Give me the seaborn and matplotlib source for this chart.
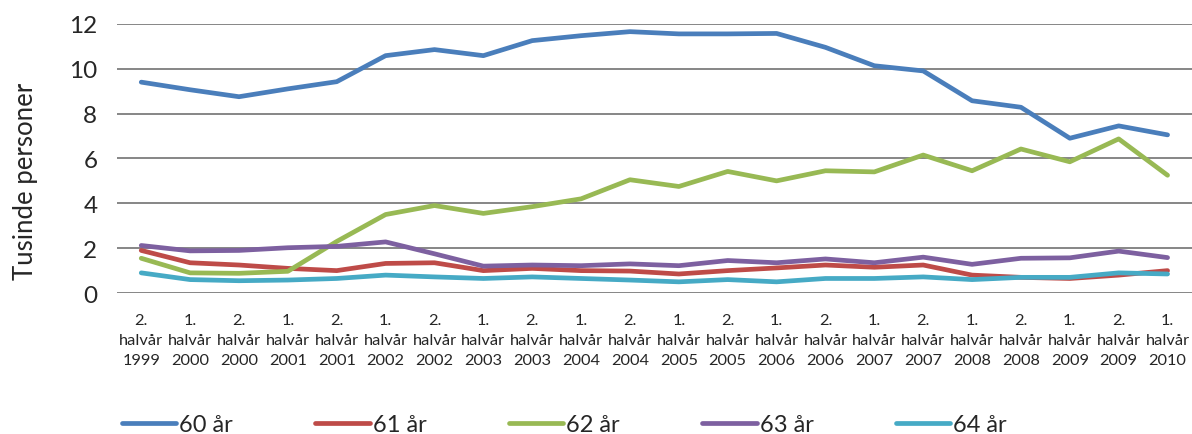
import matplotlib
matplotlib.use("Agg")
import matplotlib.pyplot as plt
import seaborn as sns
import pandas as pd

periods = [
    "2.\nhalvår\n1999", "1.\nhalvår\n2000", "2.\nhalvår\n2000", "1.\nhalvår\n2001",
    "2.\nhalvår\n2001", "1.\nhalvår\n2002", "2.\nhalvår\n2002", "1.\nhalvår\n2003",
    "2.\nhalvår\n2003", "1.\nhalvår\n2004", "2.\nhalvår\n2004", "1.\nhalvår\n2005",
    "2.\nhalvår\n2005", "1.\nhalvår\n2006", "2.\nhalvår\n2006", "1.\nhalvår\n2007",
    "2.\nhalvår\n2007", "1.\nhalvår\n2008", "2.\nhalvår\n2008", "1.\nhalvår\n2009",
    "2.\nhalvår\n2009", "1.\nhalvår\n2010",
]

age_60 = [9.40, 9.06, 8.75, 9.10, 9.42, 10.58, 10.85, 10.58, 11.25, 11.47, 11.65,
          11.55, 11.55, 11.57, 10.95, 10.13, 9.90, 8.57, 8.28, 6.90, 7.45, 7.05]
age_61 = [1.90, 1.35, 1.25, 1.10, 1.00, 1.32, 1.35, 1.00, 1.10, 1.00, 0.98,
          0.85, 1.00, 1.12, 1.25, 1.15, 1.25, 0.80, 0.70, 0.65, 0.80, 1.00]
age_62 = [1.55, 0.90, 0.88, 0.97, 2.30, 3.50, 3.90, 3.55, 3.85, 4.20, 5.05,
          4.75, 5.42, 5.00, 5.45, 5.40, 6.15, 5.45, 6.42, 5.85, 6.87, 5.25]
age_63 = [2.12, 1.88, 1.90, 2.02, 2.08, 2.28, 1.75, 1.20, 1.25, 1.22, 1.30,
          1.22, 1.45, 1.35, 1.52, 1.35, 1.60, 1.28, 1.55, 1.57, 1.87, 1.58]
age_64 = [0.90, 0.60, 0.55, 0.58, 0.65, 0.80, 0.72, 0.65, 0.72, 0.65, 0.58,
          0.50, 0.60, 0.50, 0.65, 0.65, 0.72, 0.60, 0.70, 0.70, 0.90, 0.85]

series = {"60 år": age_60, "61 år": age_61, "62 år": age_62, "63 år": age_63, "64 år": age_64}
colors = ["#4A7EBB", "#BE4B48", "#98B954", "#7D60A0", "#46AAC5"]

rows = []
for name, vals in series.items():
    for i, v in enumerate(vals):
        rows.append({"pos": i, "value": v, "alder": name})
df = pd.DataFrame(rows)

sns.set_style("white")
plt.rcParams["font.family"] = ["Lato", "DejaVu Sans"]

fig = plt.figure(figsize=(11.92, 4.35), dpi=100)
ax = fig.add_axes([0.098, 0.324, 0.902, 0.619])

sns.lineplot(data=df, x="pos", y="value", hue="alder", palette=colors,
             linewidth=3.4, sort=False, ax=ax, legend=True)

ax.set_xlim(-0.5, len(periods) - 0.5)
ax.set_ylim(0, 12)
ax.set_yticks(range(0, 13, 2))
ax.tick_params(axis="y", labelsize=17.5, length=0, pad=14)
ax.set_xticks(range(len(periods)))
ax.set_xticklabels(periods, fontsize=11.8, linespacing=1.55)
ax.tick_params(axis="x", length=0, pad=14)
ax.yaxis.grid(True, color="#868686", linewidth=1.4)
ax.set_axisbelow(True)
for s in ax.spines.values():
    s.set_visible(False)
ax.set_xlabel("")
ax.set_ylabel("Tusinde personer", fontsize=18.5)
ax.yaxis.set_label_coords(-0.073, 0.42)

handles, labels = ax.get_legend_handles_labels()
ax.legend(handles, labels, loc="center left", bbox_to_anchor=(-0.004, -0.49),
          ncol=5, frameon=False, fontsize=17, handlelength=2.3,
          handletextpad=0.12, columnspacing=3.5, borderaxespad=0)

fig.savefig("out.png", dpi=100)
